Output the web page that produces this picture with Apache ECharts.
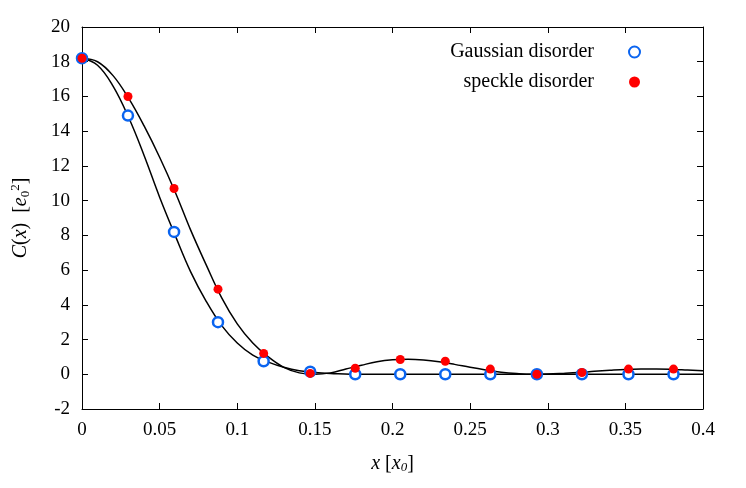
<!DOCTYPE html><html><head><meta charset="utf-8"><script src="https://cdn.jsdelivr.net/npm/echarts@6/dist/echarts.min.js"></script></head><body style="margin:0"><div id="c" style="width:746px;height:488px"></div><script>
const ptX=[0,0.0296,0.0593,0.0876,0.117,0.147,0.176,0.205,0.234,0.263,0.293,0.322,0.352,0.381];
const gaussPts=[18.2,14.9,8.2,3.0,0.75,0.15,0,0,0,0,0,0,0,0];
const specklePts=[18.2,16.0,10.7,4.9,1.2,0.05,0.35,0.85,0.75,0.3,0.0,0.1,0.3,0.3];
const gaussCurveX=[0,0.01,0.02,0.03,0.04,0.05,0.06,0.07,0.08,0.09,0.10,0.11,0.12,0.13,0.14,0.15,0.16,0.18,0.4];
const gaussCurveY=[18.2,17.8,16.6,14.8,12.6,10.2,8.0,5.9,4.2,2.8,1.8,1.1,0.7,0.4,0.2,0.1,0.05,0,0];
const speckCurveX=[0,0.01,0.02,0.03,0.04,0.05,0.06,0.07,0.08,0.09,0.10,0.11,0.12,0.13,0.14,0.15,0.16,0.17,0.18,0.19,0.20,0.21,0.22,0.23,0.24,0.25,0.26,0.27,0.28,0.29,0.30,0.31,0.32,0.33,0.34,0.35,0.36,0.37,0.38,0.39,0.40];
const speckCurveY=[18.2,18.0,17.2,15.9,14.3,12.5,10.5,8.3,6.3,4.4,2.9,1.8,1.0,0.4,0.08,0.0,0.08,0.3,0.52,0.72,0.83,0.86,0.82,0.72,0.57,0.4,0.25,0.12,0.04,0.0,0.01,0.05,0.1,0.17,0.23,0.28,0.3,0.3,0.28,0.24,0.2];
const zip=(a,b)=>a.map((v,i)=>[v,b[i]]);
const F='Liberation Serif';
const ax={axisLine:{show:true,onZero:false,lineStyle:{color:'#000',width:1}},axisTick:{inside:true,length:6,lineStyle:{color:'#000'}},splitLine:{show:false}};
const ch=echarts.init(document.getElementById('c'));
ch.setOption({
 textStyle:{fontFamily:F},
 grid:{left:82,right:43,top:27,bottom:79},
 xAxis:[{type:'value',min:0,max:0.4,interval:0.05,...ax,axisLabel:{color:'#000',fontSize:19,fontFamily:F,margin:12},
   name:'{i|x} [{i|x}{s|0}]',nameLocation:'middle',nameGap:44,nameTextStyle:{fontSize:20,fontFamily:F,color:'#000',rich:{i:{fontStyle:'italic',fontSize:20,fontFamily:F},s:{fontSize:13,fontFamily:F,fontStyle:'italic',verticalAlign:'bottom',padding:[8,0,0,0]}}}},
  {type:'value',position:'top',min:0,max:0.4,interval:0.05,...ax,axisLabel:{show:false}}],
 yAxis:[{type:'value',min:-2,max:20,interval:2,...ax,axisLabel:{color:'#000',fontSize:19,fontFamily:F,margin:12},
   name:'{i|C}({i|x})  [{i|e}{s|0}{t|2}]',nameLocation:'middle',nameGap:50,nameRotate:90,nameTextStyle:{fontSize:20,fontFamily:F,color:'#000',rich:{i:{fontStyle:'italic',fontSize:20,fontFamily:F},s:{fontSize:13,fontFamily:F,padding:[10,0,0,0]},t:{fontSize:13,fontFamily:F,padding:[0,0,10,0]}}}},
  {type:'value',position:'right',min:-2,max:20,interval:2,...ax,axisLabel:{show:false}}],
 legend:{orient:'vertical',right:100,top:37,align:'right',itemGap:10,itemWidth:11,itemHeight:11,textStyle:{fontSize:20,fontFamily:F,color:'#000',padding:[0,30,0,0]},data:['Gaussian disorder','speckle disorder']},
 series:[
  {type:'line',data:zip(gaussCurveX,gaussCurveY),smooth:0.4,showSymbol:false,lineStyle:{color:'#000',width:1.5},silent:true,z:1},
  {type:'line',data:zip(speckCurveX,speckCurveY),smooth:0.4,showSymbol:false,lineStyle:{color:'#000',width:1.5},silent:true,z:1},
  {name:'Gaussian disorder',type:'scatter',data:zip(ptX,gaussPts),symbol:'circle',symbolSize:10,itemStyle:{color:'#fff',borderColor:'#0a64f0',borderWidth:2.5,opacity:1},z:3},
  {name:'speckle disorder',type:'scatter',data:zip(ptX,specklePts),symbol:'circle',symbolSize:9,itemStyle:{color:'#f00',opacity:1},z:4}
 ]});
</script></body></html>
